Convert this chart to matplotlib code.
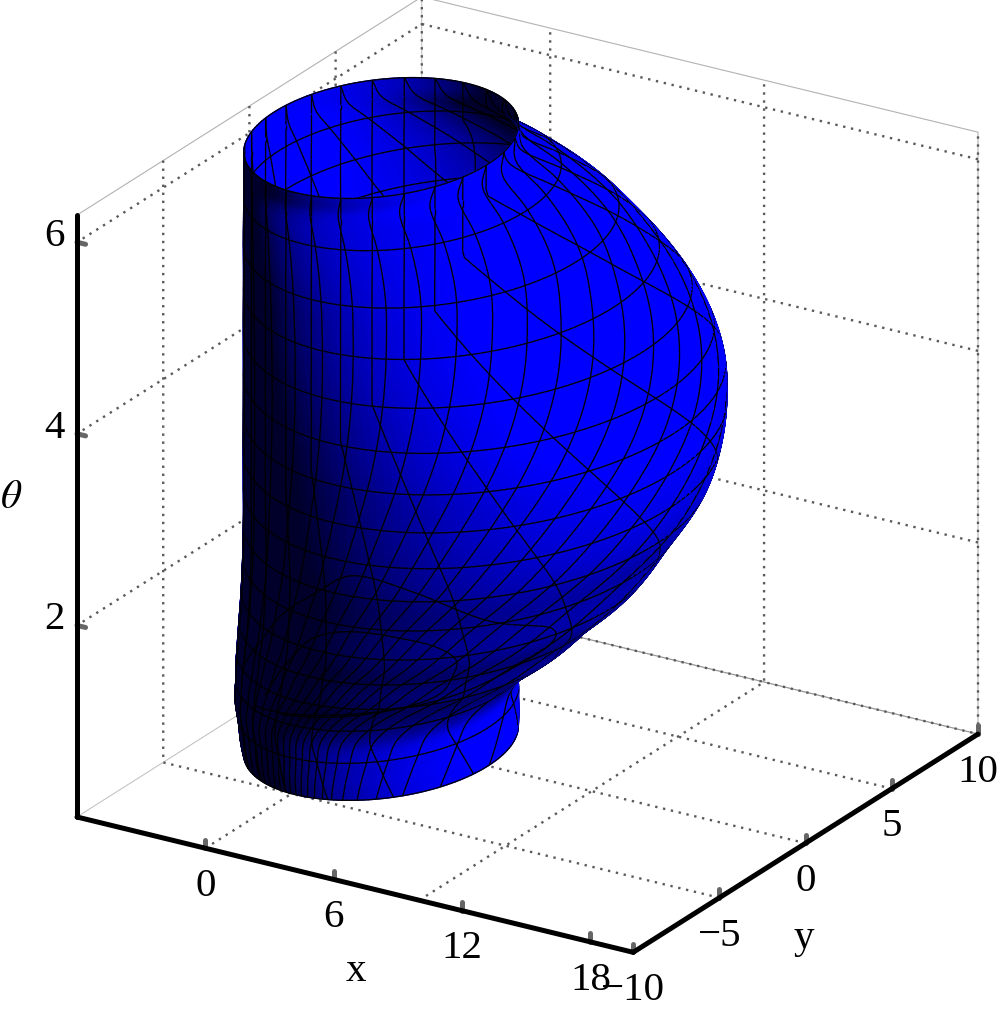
import numpy as np
import matplotlib
matplotlib.use("Agg")
import matplotlib.pyplot as plt
from matplotlib.ticker import NullFormatter
from mpl_toolkits.mplot3d import proj3d
from mpl_toolkits.mplot3d.art3d import Poly3DCollection

# ---- values ----
x_ticks = [0, 6, 12, 18]
y_ticks = [-10, -5, 0, 5, 10]
z_ticks = [2, 4, 6]
x_grid = [0, 10, 20]
x_tick_labels = ["0", "6", "12", "18"]
y_tick_labels = ["\u221210", "\u22125", "0", "5", "10"]
z_tick_labels = ["2", "4", "6"]
x_lim = (-6, 20)
y_lim = (-10, 10)
z_lim = (0, 2 * np.pi)

# cross-section profile of the tube along theta
theta_levels = np.array([0, .14, .35, .6, .8, .95, 1.2, 1.5, 1.8, 2.3, 2.8, 3.2, 3.6, 4.0, 4.4, 4.8, 5.2, 5.6, 5.9, 6.1, 6.2832])
radius = np.array([5, 5.06, 5.1, 5.2, 5.45, 5.75, 6.3, 6.8, 7.35, 7.95, 8.5, 8.72, 8.8, 8.75, 8.5, 8.05, 7.4, 6.6, 5.75, 5.1, 5.0])
center_x = np.array([.15, .09, .03, 0, .37, .75, 1.51, 2.23, 3.02, 3.89, 4.64, 4.92, 5.02, 4.96, 4.64, 4.06, 3.23, 2.2, 1.12, .285, .16])

# two rounded mesh curves low on the front, as (theta, angle in degrees)
loop_outer_theta = np.array([1.2, 1.7, 2.2, 2.7, 3.0, 2.85, 2.4, 2.1, 1.78, 1.45, 1.25, 1.1, .95, .85])
loop_outer_angle = np.array([-165, -155, -146, -133, -122, -105, -83, -63, -58, -65, -80, -105, -130, -150])
loop_inner_theta = np.array([1.08, 1.6, 2.1, 2.3, 2.2, 1.97, 1.7, 1.35, 1.15, 1.0, .9])
loop_inner_angle = np.array([-146, -140, -132, -118, -100, -89, -85, -83, -95, -115, -135])

ELEV, AZIM = 23.1, -58.2
plt.rcParams["font.family"] = ["Liberation Serif", "DejaVu Serif"]
plt.rcParams["mathtext.fontset"] = "stix"
plt.rcParams["grid.linestyle"] = (0, (1, 2.4))
plt.rcParams["grid.linewidth"] = 1.7
plt.rcParams["grid.color"] = "#5a5a5a"

fig = plt.figure(figsize=(10, 10.13), dpi=100, facecolor="white")
ax = fig.add_axes([0, 0, 1, 1], projection="3d", computed_zorder=False)
ax.set_proj_type("ortho")
ax.view_init(elev=ELEV, azim=AZIM)
ax.set_box_aspect((1, 1, 1))
ax.set_xlim(*x_lim, view_margin=0)
ax.set_ylim(*y_lim, view_margin=0)
ax.set_zlim(*z_lim, view_margin=0)
ax.set_xticks(x_grid)
ax.set_yticks(y_ticks)
ax.set_zticks(z_ticks)
ax.grid(True)
for axis in (ax.xaxis, ax.yaxis, ax.zaxis):
    axis.set_major_formatter(NullFormatter())
    axis.pane.set_facecolor((1, 1, 1, 0))
    axis.pane.set_edgecolor("#666666")
    axis.pane.set_linewidth(0.8)
    axis.line.set_visible(False)
    axis.label.set_visible(False)
    axis.offsetText.set_visible(False)
    axis._axinfo["tick"]["inward_factor"] = 0
    axis._axinfo["tick"]["outward_factor"] = 0
    axis._axinfo["tick"]["linewidth"] = {True: 0, False: 0}


def place_axes():
    """Size the square 3D axes so that the box corners fall on the reference's."""
    size = 1000.0
    left, bottom = 0.0, 0.0
    tx = [77, 978]
    ty = 1013 - 817
    for _ in range(3):
        ax.set_position([left / 1000, bottom / 1013, size / 1000, size / 1013])
        ax.apply_aspect()
        M = ax.get_proj()
        xa, ya, _z = proj3d.proj_transform(x_lim[0], y_lim[0], z_lim[0], M)
        xb, yb, _z = proj3d.proj_transform(x_lim[1], y_lim[1], z_lim[0], M)
        pa = ax.transData.transform((xa, ya))
        pb = ax.transData.transform((xb, yb))
        size *= (tx[1] - tx[0]) / (pb[0] - pa[0])
        ax.set_position([left / 1000, bottom / 1013, size / 1000, size / 1013])
        ax.apply_aspect()
        pa = ax.transData.transform((xa, ya))
        left += tx[0] - pa[0]
        bottom += ty - pa[1]


place_axes()


def hermite(xq, x, y):
    d = np.gradient(y, x)
    i = np.clip(np.searchsorted(x, xq, side="right") - 1, 0, len(x) - 2)
    h = x[i + 1] - x[i]
    t = (xq - x[i]) / h
    return ((2 * t**3 - 3 * t**2 + 1) * y[i] + (t**3 - 2 * t**2 + t) * h * d[i]
            + (-2 * t**3 + 3 * t**2) * y[i + 1] + (t**3 - t**2) * h * d[i + 1])


def R_of(z):
    return hermite(z, theta_levels, radius)


def C_of(z):
    return hermite(z, theta_levels, center_x)


az, el = np.radians(AZIM), np.radians(ELEV)
x_span = x_lim[1] - x_lim[0]
y_span = y_lim[1] - y_lim[0]
z_span = z_lim[1] - z_lim[0]
spans = np.array([x_span, y_span, z_span])
right = np.array([-np.sin(az), np.cos(az), 0])
view = np.array([np.cos(el) * np.cos(az), np.cos(el) * np.sin(az), np.sin(el)])
up = np.cross(view, right)
phi = np.arctan2(np.cos(az) / y_span, -np.sin(az) / x_span)


def surface_point(z, w):
    R = R_of(z)
    return np.stack([C_of(z) + R * np.cos(w + phi), R * np.sin(w + phi), z], axis=-1)


# ---- smooth skin -------------------------------------------------------
nz, nu = 190, 170
zs = np.linspace(z_lim[0], z_lim[1], nz + 1)
ws = np.linspace(-np.pi, np.pi, nu + 1)
ZZ, WW = np.meshgrid(zs, ws, indexing="ij")
P = surface_point(ZZ, WW)
Pc = P / spans
du = np.gradient(Pc, axis=1)
dz = np.gradient(Pc, axis=0)
du[:, 0] = du[:, -1] = Pc[:, 1] - Pc[:, -2]
N = np.cross(du, dz)
N /= np.linalg.norm(N, axis=-1, keepdims=True)
facing = np.sum(N * view, axis=-1, keepdims=True)
N = N * np.sign(facing + 1e-12)
light_screen = np.array([0.75, 0.33, 0.60])
light = light_screen[0] * right + light_screen[1] * up + light_screen[2] * view
light /= np.linalg.norm(light)
dot = np.sum(N * light, axis=-1)
I = np.clip(0.17 + 0.95 * np.clip((dot + 0.25) / 1.25, 0, None), 0, 1)

polys = []
face = []
edge = []
for i in range(nz):
    for j in range(nu):
        polys.append(np.array([P[i, j], P[i, j + 1], P[i + 1, j + 1], P[i + 1, j]]))
        v = 0.25 * (I[i, j] + I[i, j + 1] + I[i + 1, j + 1] + I[i + 1, j])
        face.append((0, 0, v, 1))
        edge.append((0, 0, v, 1))

# ---- mesh lines --------------------------------------------------------
lift = 0.012 * view * spans


def add_curve(pts):
    pts = pts + lift
    for a, b in zip(pts[:-1], pts[1:]):
        polys.append(np.array([a, b]))
        face.append((0, 0, 0, 0))
        edge.append((0, 0, 0, 1))


ring_thetas = np.arange(0, 17) * np.pi / 8
u_dense = np.linspace(-np.pi, np.pi, 181)
for zk in ring_thetas:
    add_curve(surface_point(np.full_like(u_dense, zk), u_dense))

meridians_deg = np.linspace(-174, 174, 27)
drift_right = 0.24
drift_left = 0.27
z_line = np.linspace(z_lim[0], z_lim[1], 161)
z_top = z_lim[1]
for w_deg in meridians_deg:
    w0 = np.radians(w_deg)
    sgn = -1.0 if w0 < 0 else 1.0
    s0 = (1 + np.cos(w0)) * R_of(np.array(z_top))
    s_px = s0 * 27.47
    # family that stays upright, then drifts to the right going down
    zb = np.clip(4.1 + (s_px - 75) * 0.0117, 3.0, z_top)
    w_hold = sgn * np.arccos(np.clip(s0 / R_of(np.maximum(z_line, zb)) - 1, -1, 1))
    wa = 2 * np.arctan(np.tan(w_hold / 2) + drift_right * np.clip(zb - z_line, 0, None))
    add_curve(surface_point(z_line, wa))
    # family that drifts to the left going down
    wb = 2 * np.arctan(np.tan(w0 / 2) - drift_left * (z_top - z_line))
    add_curve(surface_point(z_line, wb))

for lz, lw_deg in ((loop_outer_theta, loop_outer_angle), (loop_inner_theta, loop_inner_angle)):
    s = np.arange(len(lz), dtype=float)
    sq = np.linspace(0, s[-1], 90)
    add_curve(surface_point(hermite(sq, s, lz), np.radians(hermite(sq, s, lw_deg.astype(float)))))

skin = Poly3DCollection(polys, facecolors=face, edgecolors=edge, linewidths=0.95, zsort="average")
skin.set_zorder(5)
ax.add_collection3d(skin, autolim=False)

# ---- ticks, axis lines -------------------------------------------------
tick_style = dict(color="#666666", lw=3.6, solid_capstyle="round", zorder=6)
for t in x_ticks:
    ax.plot([t, t], [y_lim[0], y_lim[0]], [0, 0.09], **tick_style)
for t in y_ticks:
    ax.plot([x_lim[1], x_lim[1]], [t, t], [0, 0.09], **tick_style)
for t in z_ticks:
    ax.plot([x_lim[0], x_lim[0] + 0.4], [y_lim[0], y_lim[0]], [t, t], **tick_style)

line_style = dict(color="black", lw=3.6, solid_capstyle="round", zorder=7)
ax.plot([x_lim[0], x_lim[1]], [y_lim[0], y_lim[0]], [0, 0], **line_style)
ax.plot([x_lim[1], x_lim[1]], [y_lim[0], y_lim[1]], [0, 0], **line_style)
ax.plot([x_lim[0], x_lim[0]], [y_lim[0], y_lim[0]], [z_lim[0], z_lim[1]], **line_style)


# ---- text, placed at the projection of its 3D anchor -------------------
def label(x, y, z, s):
    px, py, _d = proj3d.proj_transform(x, y, z, ax.get_proj())
    ax.text2D(px, py, s, transform=ax.transData, fontsize=29.5, ha="center", va="center", zorder=8)


for t, s in zip(x_ticks, x_tick_labels):
    label(t, y_lim[0], -0.40, s)
for t, s in zip(y_ticks, y_tick_labels):
    label(x_lim[1], t, -0.40, s)
for t, s in zip(z_ticks, z_tick_labels):
    label(x_lim[0] - 1.07, y_lim[0], t, s)
label(7.05, y_lim[0], -0.90, "x")
label(x_lim[1], -0.09, -0.98, "y")
label(-9.1, y_lim[0], 3.16, r"$\theta$")

fig.savefig("out.png", dpi=100, facecolor="white")
